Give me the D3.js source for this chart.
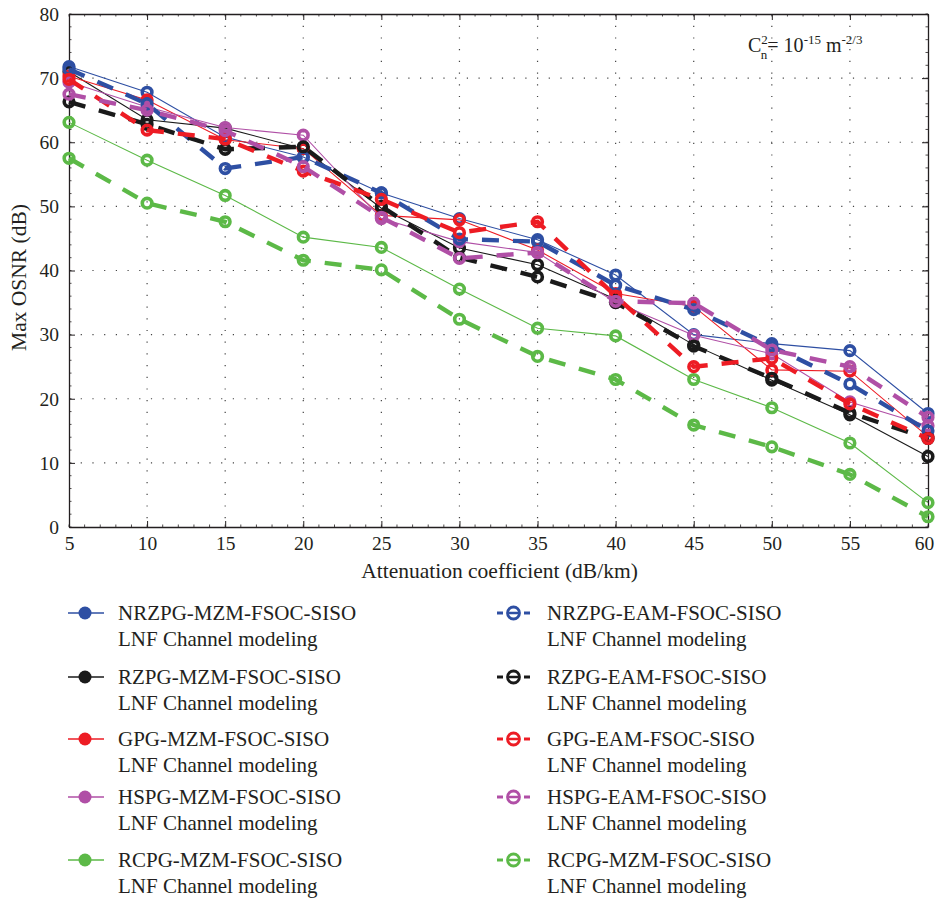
<!DOCTYPE html>
<html><head><meta charset="utf-8">
<script src="https://cdn.jsdelivr.net/npm/d3@7"></script>
<style>body{margin:0;background:#fff}svg{display:block}text{font-family:"Liberation Serif","DejaVu Serif",serif;fill:#231f20}</style>
</head><body>
<svg id="c" width="936" height="898"></svg>
<script>
const xValues = [5,10,15,20,25,30,35,40,45,50,55,60];
const xTicks = [5,10,15,20,25,30,35,40,45,50,55,60];
const yTicks = [0,10,20,30,40,50,60,70,80];
const names = ["NRZPG-MZM-FSOC-SISO","RZPG-MZM-FSOC-SISO","GPG-MZM-FSOC-SISO","HSPG-MZM-FSOC-SISO","RCPG-MZM-FSOC-SISO",
               "NRZPG-EAM-FSOC-SISO","RZPG-EAM-FSOC-SISO","GPG-EAM-FSOC-SISO","HSPG-EAM-FSOC-SISO","RCPG-MZM-FSOC-SISO"];
const subLabel = "LNF Channel modeling";
const colors = ["#2e4fa3","#1a1a1a","#ed1c24","#b04fa6","#5cb947","#2e4fa3","#1a1a1a","#ed1c24","#b04fa6","#5cb947"];
const dashedFlags = [false,false,false,false,false,true,true,true,true,true];
const nrzMzm  = [71.8,67.8,60.8,57.7,52.1,48.1,44.8,39.3,30.0,28.6,27.5,17.7];
const rzMzm   = [71.0,63.5,62.2,59.0,49.7,43.5,40.9,35.5,28.4,22.9,17.5,11.0];
const gMzm    = [70.3,66.6,60.4,59.0,48.6,47.9,43.2,36.4,34.4,24.5,24.3,14.1];
const hsMzm   = [69.4,65.5,62.3,61.1,48.1,44.5,42.8,35.0,29.9,27.0,19.5,15.8];
const rcMzm   = [63.1,57.2,51.7,45.2,43.6,37.1,31.0,29.8,23.0,18.6,13.1,3.8];
const nrzEam  = [71.4,66.0,55.9,57.7,52.1,44.9,44.5,37.7,33.9,28.2,22.3,15.0];
const rzEam   = [66.3,62.8,58.9,59.3,50.0,42.0,39.0,35.0,28.2,23.2,17.8,13.8];
const gEam    = [69.8,61.9,60.5,55.5,51.1,45.9,47.6,36.0,25.0,26.3,19.2,13.8];
const hsEam   = [67.5,65.0,61.8,56.2,48.3,41.9,42.8,35.2,34.9,27.6,25.0,17.1];
const rcMzm2  = [57.5,50.5,47.6,41.6,40.1,32.4,26.6,23.0,15.9,12.5,8.2,1.6];
const seriesValues = [nrzMzm,rzMzm,gMzm,hsMzm,rcMzm,nrzEam,rzEam,gEam,hsEam,rcMzm2];

const svg = d3.select("#c");
const x = d3.scaleLinear().domain([5,60]).range([69,928]);
const y = d3.scaleLinear().domain([0,80]).range([527,14]);

// grid
const grid = svg.append("g").attr("stroke","#444").attr("stroke-width",1.2).attr("stroke-dasharray","1.2,10.5");
xTicks.slice(1,-1).forEach(v=>grid.append("line").attr("x1",x(v)).attr("x2",x(v)).attr("y1",y(80)).attr("y2",y(0)));
yTicks.slice(1,-1).forEach(v=>grid.append("line").attr("x1",x(5)).attr("x2",x(60)).attr("y1",y(v)).attr("y2",y(v)));

// minor ticks
const minor = svg.append("g").attr("stroke","#231f20").attr("stroke-width",0.8);
d3.range(5,60.01,1).forEach(v=>{
  minor.append("line").attr("x1",x(v)).attr("x2",x(v)).attr("y1",y(0)).attr("y2",y(0)-2.5);
  minor.append("line").attr("x1",x(v)).attr("x2",x(v)).attr("y1",y(80)).attr("y2",y(80)+2.5);
});
d3.range(0,80.01,2).forEach(v=>{
  minor.append("line").attr("x1",x(5)).attr("x2",x(5)+2.5).attr("y1",y(v)).attr("y2",y(v));
  minor.append("line").attr("x1",x(60)).attr("x2",x(60)-2.5).attr("y1",y(v)).attr("y2",y(v));
});

// axes
const fs = "19.5px";
const gx = svg.append("g").attr("transform",`translate(0,${y(0)})`)
  .call(d3.axisBottom(x).tickValues(xTicks).tickFormat(d3.format("d")).tickSizeInner(-6).tickSizeOuter(0).tickPadding(9));
const gy = svg.append("g").attr("transform",`translate(${x(5)},0)`)
  .call(d3.axisLeft(y).tickValues(yTicks).tickFormat(d3.format("d")).tickSizeInner(-6).tickSizeOuter(0).tickPadding(10));
const gt = svg.append("g").attr("transform",`translate(0,${y(80)})`)
  .call(d3.axisTop(x).tickValues(xTicks).tickFormat("").tickSizeInner(-6).tickSizeOuter(0));
const gr = svg.append("g").attr("transform",`translate(${x(60)},0)`)
  .call(d3.axisRight(y).tickValues(yTicks).tickFormat("").tickSizeInner(-6).tickSizeOuter(0));
[gx,gy,gt,gr].forEach(g=>{
  g.selectAll("path").attr("stroke","#231f20").attr("stroke-width",1.3);
  g.selectAll("line").attr("stroke","#231f20").attr("stroke-width",1);
  g.selectAll("text").style("font-family","'Liberation Serif',serif").style("font-size",fs).attr("fill","#231f20");
});
gx.selectAll(".tick text").filter(d=>d===60).attr("dx",-4);

// axis titles
svg.append("text").attr("x",(x(5)+x(60))/2+1).attr("y",578).attr("text-anchor","middle").style("font-size","21.5px").text("Attenuation coefficient (dB/km)");
svg.append("text").attr("transform",`translate(26,${(y(0)+y(80))/2+7}) rotate(-90)`).attr("text-anchor","middle").style("font-size","21.5px").text("Max OSNR (dB)");

// annotation
const ann = svg.append("text").attr("x",748).attr("y",52).style("font-size","20px");
ann.append("tspan").text("C");
ann.append("tspan").attr("dy",-8).style("font-size","13px").text("2");
ann.append("tspan").attr("dx",-7).attr("dy",15).style("font-size","13px").text("n");
ann.append("tspan").attr("dy",-7).text("= 10");
ann.append("tspan").attr("dy",-8).style("font-size","13px").text("-15");
ann.append("tspan").attr("dy",8).text(" m");
ann.append("tspan").attr("dy",-8).style("font-size","13px").text("-2/3");

// series
const line = d3.line().x((d,i)=>x(xValues[i])).y(d=>y(d));
const plot = svg.append("g");
const order = [4,9,0,1,2,3,5,6,7,8];
order.forEach(s=>{
  const dashed = dashedFlags[s];
  plot.append("path").datum(seriesValues[s]).attr("d",line).attr("fill","none")
    .attr("stroke",colors[s]).attr("stroke-width",dashed?4.4:1.1)
    .attr("stroke-dasharray",dashed?"17,14":null);
  plot.selectAll(null).data(seriesValues[s]).enter().append("circle")
    .attr("cx",(d,i)=>x(xValues[i])).attr("cy",d=>y(d)).attr("r",4.8)
    .attr("fill","none").attr("stroke",colors[s]).attr("stroke-width",3.6);
});

// legend
const leg = svg.append("g");
const colX = [68,497];
const rowY = [613,677,739,797,860];
names.forEach((n,i)=>{
  const col = i<5?0:1, row = i%5;
  const lx = colX[col], ly = rowY[row];
  const g = leg.append("g").attr("transform",`translate(${lx},${ly})`);
  if(!dashedFlags[i]){
    g.append("line").attr("x1",0).attr("x2",36).attr("y1",0).attr("y2",0).attr("stroke",colors[i]).attr("stroke-width",1.3);
    g.append("circle").attr("cx",17).attr("cy",0).attr("r",6.5).attr("fill",colors[i]);
  } else {
    g.append("line").attr("x1",0).attr("x2",6).attr("y1",0).attr("y2",0).attr("stroke",colors[i]).attr("stroke-width",3);
    g.append("line").attr("x1",27).attr("x2",33).attr("y1",0).attr("y2",0).attr("stroke",colors[i]).attr("stroke-width",3);
    g.append("line").attr("x1",12).attr("x2",21).attr("y1",0).attr("y2",0).attr("stroke",colors[i]).attr("stroke-width",2.5);
    g.append("circle").attr("cx",16.5).attr("cy",0).attr("r",6).attr("fill","none").attr("stroke",colors[i]).attr("stroke-width",2.8);
  }
  g.append("text").attr("x",50).attr("y",7).style("font-size","21px").text(n);
  g.append("text").attr("x",50).attr("y",33).style("font-size","21px").text(subLabel);
});
</script>
</body></html>
